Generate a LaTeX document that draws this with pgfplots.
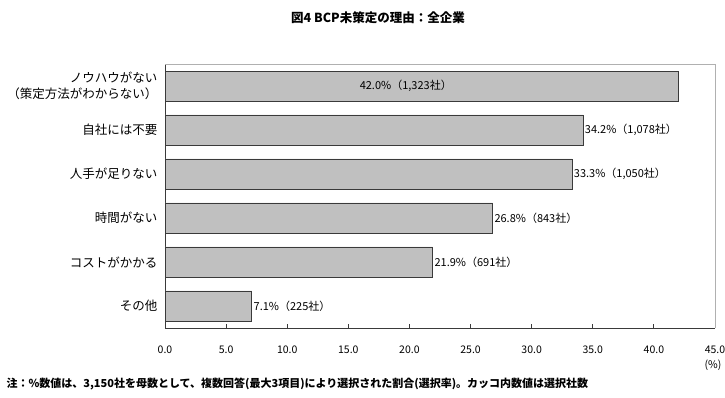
\documentclass[border=0pt]{standalone}
\usepackage{fontspec}
\setmainfont{Noto Sans CJK JP}
\usepackage{pgfplots}
\pgfplotsset{compat=1.18}
\definecolor{barfill}{HTML}{C0C0C0}
\definecolor{baredge}{HTML}{3A3A3A}
\definecolor{framegray}{HTML}{B0B0B0}
\begin{document}
\begin{tikzpicture}[x=1pt,y=1pt]
\useasboundingbox (0,0) rectangle (725,398);
\node[font=\bfseries\fontsize{12.5}{14}\selectfont] at (378,380) {図4 BCP未策定の理由：全企業};
\begin{axis}[
  at={(165pt,70pt)}, anchor=south west,
  scale only axis, width=550pt, height=264pt,
  xbar, bar width=30pt, bar shift=0pt,
  xmin=0, xmax=45, ymin=-0.5, ymax=5.5,
  axis lines*=left,
  axis line style={draw=baredge, line width=0.9pt},
  xtick={0,5,...,45},
  xticklabel={\pgfmathprintnumber[fixed,fixed zerofill,precision=1]{\tick}},
  /pgf/number format/assume math mode=true,
  xticklabel style={font=\fontsize{10.5}{12}\selectfont, yshift=-14pt},
  x tick style={draw=baredge, line width=0.8pt},
  tick align=inside, major tick length=4pt,
  ytick={0,1,2,3,4,5},
  yticklabels={その他, コストがかかる, 時間がない, 人手が足りない, 自社には不要, {ノウハウがない\\（策定方法がわからない）}},
  yticklabel style={font=\fontsize{12.5}{16}\selectfont, align=right, xshift=-4pt},
  y tick style={draw=none},
  nodes near coords,
  point meta=explicit symbolic,
  nodes near coords style={font=\fontsize{11}{12}\selectfont, anchor=west, inner sep=1.5pt},
  clip=false,
]
\addplot[fill=barfill, draw=baredge, line width=0.9pt] coordinates {
  (34.2,4) [34.2\%（1,078社）]
  (33.3,3) [33.3\%（1,050社）]
  (26.8,2) [26.8\%（843社）]
  (21.9,1) [21.9\%（691社）]
  (7.1,0) [7.1\%（225社）]
};
\addplot[fill=barfill, draw=baredge, line width=0.9pt, nodes near coords={}] coordinates {(42.0,5)};
\node[font=\fontsize{11}{12}\selectfont] at (axis cs:19.7,5) {42.0\%（1,323社）};
\draw[framegray, line width=0.8pt] (axis cs:0,5.5) -- (axis cs:45,5.5) -- (axis cs:45,-0.5);
\end{axis}
\node[font=\fontsize{10.5}{12}\selectfont] at (713,33) {(\%)};
\node[font=\bfseries\fontsize{11}{12}\selectfont, anchor=west] at (3,14) {注：\%数値は、3,150社を母数として、複数回答(最大3項目)により選択された割合(選択率)。カッコ内数値は選択社数};
\end{tikzpicture}
\end{document}
